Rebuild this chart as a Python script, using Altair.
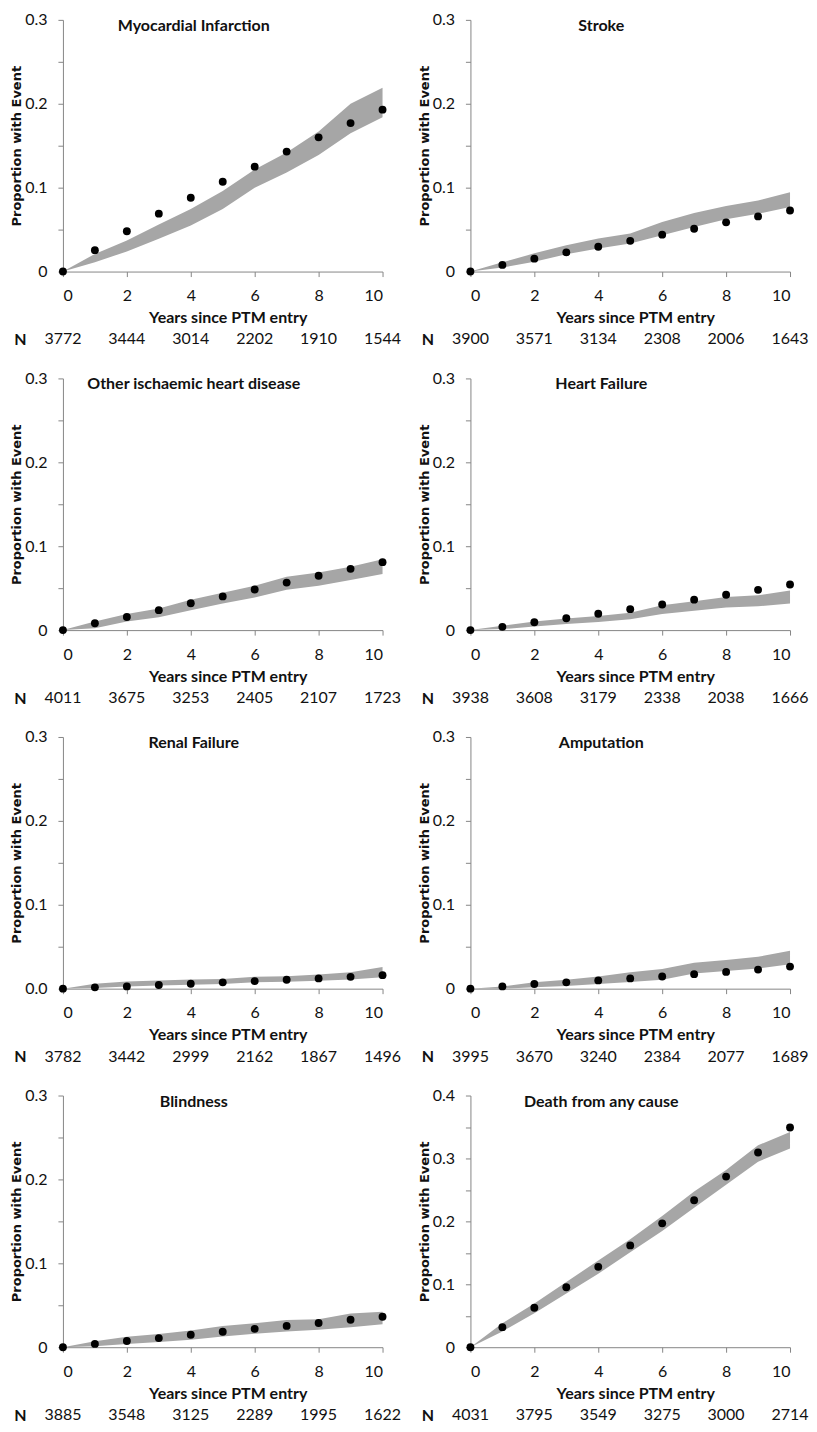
import altair as alt
import pandas as pd

YEARS = [0, 1, 2, 3, 4, 5, 6, 7, 8, 9, 10]
N_YEARS = [0, 2, 4, 6, 8, 10]

TITLES = ["Myocardial Infarction", "Stroke", "Other ischaemic heart disease", "Heart Failure",
          "Renal Failure", "Amputation", "Blindness", "Death from any cause"]

mi_est = [0, 0.0255, 0.048, 0.069, 0.088, 0.107, 0.125, 0.143, 0.160, 0.177, 0.193]
mi_hi = [0, 0.021, 0.037, 0.056, 0.0745, 0.096, 0.1215, 0.142, 0.167, 0.200, 0.219]
mi_lo = [0, 0.011, 0.024, 0.039, 0.055, 0.0745, 0.100, 0.118, 0.139, 0.165, 0.184]
mi_n = [3772, 3444, 3014, 2202, 1910, 1544]

st_est = [0, 0.0079, 0.0154, 0.0228, 0.0295, 0.0366, 0.044, 0.051, 0.0587, 0.0657, 0.0728]
st_hi = [0, 0.011, 0.0217, 0.0315, 0.0394, 0.0453, 0.059, 0.0697, 0.078, 0.0846, 0.0945]
st_lo = [0, 0.0047, 0.0118, 0.0205, 0.0276, 0.0335, 0.0433, 0.053, 0.0622, 0.0689, 0.0768]
st_n = [3900, 3571, 3134, 2308, 2006, 1643]

ih_est = [0, 0.0082, 0.0156, 0.0238, 0.032, 0.0402, 0.0484, 0.0566, 0.0648, 0.073, 0.081]
ih_hi = [0, 0.0102, 0.0191, 0.0258, 0.0363, 0.0445, 0.053, 0.0637, 0.0688, 0.0754, 0.0844]
ih_lo = [0, 0.0023, 0.0102, 0.0152, 0.0238, 0.0316, 0.039, 0.048, 0.053, 0.0598, 0.0668]
ih_n = [4011, 3675, 3253, 2405, 2107, 1723]

hf_est = [0, 0.0039, 0.0094, 0.0141, 0.0195, 0.025, 0.0305, 0.0363, 0.0422, 0.048, 0.0543]
hf_hi = [0, 0.0051, 0.0102, 0.0137, 0.0168, 0.0207, 0.0297, 0.0344, 0.0395, 0.0414, 0.0473]
hf_lo = [0, 0.0012, 0.0043, 0.0074, 0.0098, 0.0129, 0.0191, 0.023, 0.027, 0.0285, 0.0316]
hf_n = [3938, 3608, 3179, 2338, 2038, 1666]

rf_est = [0, 0.0016, 0.0027, 0.0043, 0.0059, 0.0075, 0.009, 0.0106, 0.0122, 0.0141, 0.0161]
rf_hi = [0, 0.0059, 0.0086, 0.0098, 0.011, 0.0114, 0.0141, 0.0149, 0.0169, 0.0196, 0.0259]
rf_lo = [0, 0.0008, 0.0027, 0.0039, 0.0047, 0.0055, 0.0075, 0.0082, 0.0094, 0.011, 0.0137]
rf_n = [3782, 3442, 2999, 2162, 1867, 1496]

am_est = [0, 0.0027, 0.0055, 0.0075, 0.0098, 0.0122, 0.0145, 0.0173, 0.02, 0.0227, 0.0263]
am_hi = [0, 0.0027, 0.0075, 0.0106, 0.0145, 0.0196, 0.0235, 0.031, 0.0341, 0.038, 0.0451]
am_lo = [0, 0.0, 0.0016, 0.0031, 0.0055, 0.0078, 0.0106, 0.018, 0.021, 0.024, 0.029]
am_n = [3995, 3670, 3240, 2384, 2077, 1689]

bl_est = [0, 0.0039, 0.0074, 0.0109, 0.0148, 0.0184, 0.0219, 0.0254, 0.0289, 0.0328, 0.0363]
bl_hi = [0, 0.007, 0.0125, 0.0156, 0.0199, 0.0254, 0.0285, 0.0324, 0.0332, 0.0402, 0.0422]
bl_lo = [0, 0.0012, 0.0039, 0.0063, 0.009, 0.0129, 0.016, 0.0188, 0.0207, 0.0238, 0.0273]
bl_n = [3885, 3548, 3125, 2289, 1995, 1622]

de_est = [0, 0.0319, 0.0628, 0.0953, 0.1277, 0.1618, 0.1969, 0.2335, 0.2712, 0.3094, 0.3492]
de_hi = [0, 0.0382, 0.0696, 0.1037, 0.1377, 0.1717, 0.2084, 0.2476, 0.2817, 0.3209, 0.342]
de_lo = [0, 0.0251, 0.0539, 0.0853, 0.1168, 0.1508, 0.1848, 0.2215, 0.2581, 0.2948, 0.316]
de_n = [4031, 3795, 3549, 3275, 3000, 2714]

SERIES = [
    (mi_est, mi_lo, mi_hi, mi_n, 0.3, "0"),
    (st_est, st_lo, st_hi, st_n, 0.3, "0"),
    (ih_est, ih_lo, ih_hi, ih_n, 0.3, "0"),
    (hf_est, hf_lo, hf_hi, hf_n, 0.3, "0"),
    (rf_est, rf_lo, rf_hi, rf_n, 0.3, "0.0"),
    (am_est, am_lo, am_hi, am_n, 0.3, "0"),
    (bl_est, bl_lo, bl_hi, bl_n, 0.3, "0"),
    (de_est, de_lo, de_hi, de_n, 0.4, "0"),
]

W, H = 320, 252
FONT = "Lato"
GREY = "#A6A6A6"
AXIS_GREY = "#868686"
EXT = 38


def panel(title, est, lo, hi, ns, ymax, zero):
    df = pd.DataFrame({"year": YEARS, "est": est, "lo": lo, "hi": hi})
    xs = alt.Scale(domain=[0, 10], nice=False, zero=False)
    ys = alt.Scale(domain=[0, ymax], nice=False)
    nt = int(round(ymax / 0.05))
    yvals = [round(0.05 * i, 2) for i in range(nt + 1)]
    xaxis = alt.Axis(values=N_YEARS, title="Years since PTM entry", grid=False,
                     tickSize=5, labelPadding=11, titlePadding=6, titleX=165,
                     labelFont=FONT, labelFontSize=16, labelColor="#111",
                     titleFont=FONT, titleFontSize=16, titleFontWeight="bold", titleColor="#111",
                     domainColor=AXIS_GREY, tickColor=AXIS_GREY)
    yaxis = alt.Axis(values=yvals, title="Proportion with Event", grid=False,
                     labelExpr="(round(datum.value*100) % 10 == 0) ? (datum.value == 0 ? '" + zero +
                               "' : format(datum.value, '.1f')) : ''",
                     tickSize=5, labelPadding=11, titlePadding=1,
                     minExtent=EXT, maxExtent=EXT,
                     labelFont=FONT, labelFontSize=16, labelColor="#111",
                     titleFont="DejaVu Sans", titleFontSize=13, titleFontWeight="bold", titleColor="#111",
                     domainColor=AXIS_GREY, tickColor=AXIS_GREY)
    band = alt.Chart(df).mark_area(color=GREY, opacity=1).encode(
        x=alt.X("year:Q", scale=xs, axis=xaxis),
        y=alt.Y("lo:Q", scale=ys, axis=yaxis),
        y2="hi:Q",
    )
    dots = alt.Chart(df).mark_circle(color="black", opacity=1, size=62).encode(
        x=alt.X("year:Q", scale=xs, axis=xaxis),
        y=alt.Y("est:Q", scale=ys, axis=yaxis),
    )
    head = alt.Chart(pd.DataFrame({"t": [title]})).mark_text(
        font=FONT, fontSize=16, fontWeight="bold", color="#111", align="center", baseline="middle"
    ).encode(text="t:N", x=alt.value(131), y=alt.value(6))
    plot = alt.layer(band, dots, head).properties(width=W, height=H)
    ndf = pd.DataFrame({"year": N_YEARS, "n": [str(v) for v in ns], "lab": ["N"] * len(ns)})
    nrow = alt.Chart(ndf).mark_text(font=FONT, fontSize=16, color="#111").encode(
        x=alt.X("year:Q", scale=alt.Scale(domain=[0, 10], nice=False), axis=None),
        y=alt.Y("lab:N", axis=alt.Axis(title=" ", titleFont="DejaVu Sans", titleFontSize=13,
                                        titlePadding=1, domain=False, ticks=False, labelPadding=37,
                                        minExtent=EXT, maxExtent=EXT,
                                        labelFont=FONT, labelFontSize=16, labelFontWeight="bold",
                                        labelColor="#111")),
        text="n:N",
    ).properties(width=W, height=16)
    return alt.vconcat(plot, nrow, spacing=6)


panels = [panel(t, *s) for t, s in zip(TITLES, SERIES)]
rows = [alt.hconcat(panels[i], panels[i + 1], spacing=17) for i in range(0, 8, 2)]
chart = alt.vconcat(*rows, spacing=23).properties(
    padding={"left": 3, "top": 3, "right": 0, "bottom": 0}
).configure_view(stroke=None)

chart.save("out.html", embed_options={"renderer": "svg", "actions": False})
